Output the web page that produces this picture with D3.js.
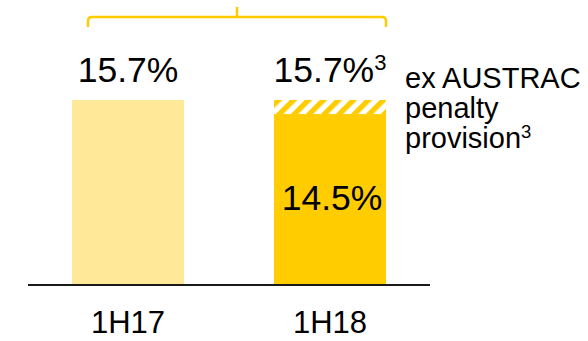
<!DOCTYPE html>
<html>
<head>
<meta charset="utf-8">
<script src="https://cdn.jsdelivr.net/npm/d3@7"></script>
<style>
  body { margin: 0; background: #fff; }
  text { font-family: "Liberation Sans", Arial, sans-serif; fill: #000; }
</style>
</head>
<body>
<div id="chart"></div>
<script>
var categories = ["1H17", "1H18"]
var reported = [15.7, 14.5]
var exPenalty = [15.7, 15.7]
var topLabels = ["15.7%", "15.7%"]
var topNotes = ["", "3"]
var insideLabels = ["", "14.5%"]
var legendLines = ["ex AUSTRAC", "penalty", "provision"]

var colors = {}
colors.light = "#FFE999"
colors.gold = "#FFCC00"
colors.axis = "#1a1a1a"

var width = 588, height = 341

var svg = d3.select("#chart").append("svg")
  .attr("width", width)
  .attr("height", height)

var x = d3.scaleBand()
  .domain(categories)
  .range([28, 430])
  .paddingInner(0.4455)
  .paddingOuter(0.2178)

var y = d3.scaleLinear()
  .domain([0, 16])
  .range([284, 96.5])

// hatch for the penalty part
var defs = svg.append("defs")
var pat = defs.append("pattern")
  .attr("id", "hatch")
  .attr("patternUnits", "userSpaceOnUse")
  .attr("width", 10.6)
  .attr("height", 10.6)
  .attr("patternTransform", "rotate(45)")
pat.append("rect").attr("width", 10.6).attr("height", 10.6).attr("fill", "#fff")
pat.append("rect").attr("width", 5.3).attr("height", 10.6).attr("fill", colors.gold)

var data = categories.map(function(c, i) {
  return {cat: c, rep: reported[i], ex: exPenalty[i], label: topLabels[i], note: topNotes[i], inside: insideLabels[i], i: i}
})

// hatched bit (difference between ex-penalty and reported)
svg.selectAll("rect.hatch")
  .data(data.filter(function(d) { return d.ex > d.rep }))
  .enter().append("rect")
  .attr("class", "hatch")
  .attr("x", function(d) { return x(d.cat) })
  .attr("y", function(d) { return y(d.ex) })
  .attr("width", x.bandwidth())
  .attr("height", function(d) { return y(d.rep) - y(d.ex) })
  .attr("fill", "url(#hatch)")
  .attr("shape-rendering", "crispEdges")

svg.selectAll("rect.bar")
  .data(data)
  .enter().append("rect")
  .attr("class", "bar")
  .attr("x", function(d) { return x(d.cat) })
  .attr("y", function(d) { return y(d.rep) })
  .attr("width", x.bandwidth())
  .attr("height", function(d) { return y(0) - y(d.rep) })
  .attr("fill", function(d) { return d.i == 0 ? colors.light : colors.gold })

// axis line
svg.append("line")
  .attr("x1", x.range()[0]).attr("x2", x.range()[1])
  .attr("y1", y(0) + 1).attr("y2", y(0) + 1)
  .attr("stroke", colors.axis)
  .attr("stroke-width", 2)

// value labels above bars
var tl = svg.selectAll("text.top")
  .data(data)
  .enter().append("text")
  .attr("class", "top")
  .attr("x", function(d) { return x(d.cat) + x.bandwidth() / 2 })
  .attr("y", function(d) { return y(d.ex) - 18 })
  .attr("text-anchor", "middle")
  .style("font-size", "35.5px")
tl.append("tspan").text(function(d) { return d.label })
tl.filter(function(d) { return d.note }).append("tspan")
  .attr("dy", -12)
  .style("font-size", "22px")
  .text(function(d) { return d.note })

svg.selectAll("text.inside")
  .data(data.filter(function(d) { return d.inside }))
  .enter().append("text")
  .attr("class", "inside")
  .attr("x", function(d) { return x(d.cat) + x.bandwidth() / 2 + 2 })
  .attr("y", function(d) { return y(d.rep) + 96 })
  .attr("text-anchor", "middle")
  .style("font-size", "35.5px")
  .text(function(d) { return d.inside })

// category labels
svg.selectAll("text.cat")
  .data(categories)
  .enter().append("text")
  .attr("class", "cat")
  .attr("x", function(d) { return x(d) + x.bandwidth() / 2 })
  .attr("y", 333)
  .attr("text-anchor", "middle")
  .style("font-size", "31px")
  .text(function(d) { return d })

// legend text
var lg = svg.append("text")
  .attr("x", 405)
  .attr("y", 88)
  .style("font-size", "29px")
legendLines.forEach(function(t, i) {
  lg.append("tspan").attr("x", 405).attr("dy", i == 0 ? 0 : 30).text(t)
})
lg.append("tspan").attr("dy", -10).style("font-size", "18.5px").text("3")

// bracket over both bars
var bl = x(categories[0]) + 16
var br = x(categories[1]) + x.bandwidth()
var by = 17, r = 4
var mid = (bl + br) / 2
svg.append("path")
  .attr("d", "M" + bl + "," + (by + 10) + " V" + (by + r) + " Q" + bl + "," + by + " " + (bl + r) + "," + by +
    " H" + (br - r) + " Q" + br + "," + by + " " + br + "," + (by + r) + " V" + (by + 10) +
    " M" + mid + "," + by + " V" + (by - 10))
  .attr("fill", "none")
  .attr("stroke", colors.gold)
  .attr("stroke-width", 2.5)
</script>
</body>
</html>
